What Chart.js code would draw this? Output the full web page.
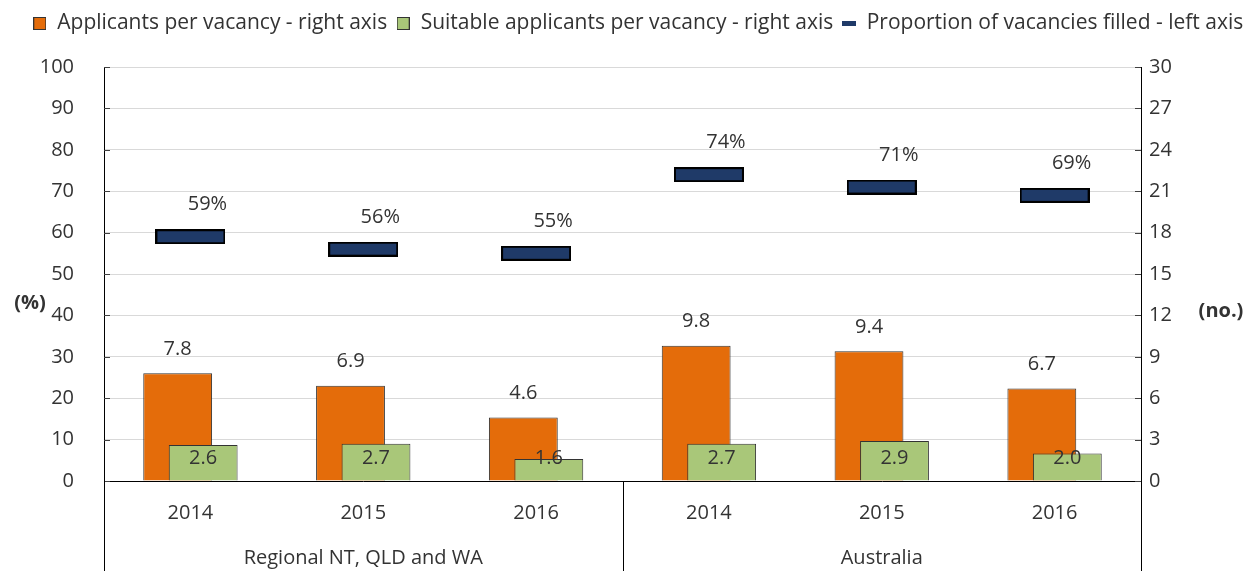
<!DOCTYPE html>
<html>
<head>
<meta charset="utf-8">
<script src="https://cdn.jsdelivr.net/npm/chart.js@4.4.1/dist/chart.umd.min.js"></script>
<style>
html, body { margin: 0; padding: 0; background: #fff; }
</style>
</head>
<body>
<canvas id="myChart" width="1248" height="571"></canvas>
<script>
// chart data
var years = ["2014", "2015", "2016", "2014", "2015", "2016"];
var groups = ["Regional NT, QLD and WA", "Australia"];
var applicants = [7.8, 6.9, 4.6, 9.8, 9.4, 6.7];
var suitable = [2.6, 2.7, 1.6, 2.7, 2.9, 2.0];
var filled = [59, 56, 55, 74, 71, 69];
var seriesNames = [
	"Applicants per vacancy - right axis",
	"Suitable applicants per vacancy - right axis",
	"Proportion of vacancies filled - left axis"
];

var FONT = "'Open Sans', Lato, sans-serif";
var TEXT = "#333333";
var ORANGE = "#E46C0A";
var GREEN = "#A9C779";
var NAVY = "#1F3A68";
var EDGE = "#333333";

function makeIcon(w, h, fill, stroke, lw) {
	var c = document.createElement("canvas");
	c.width = w; c.height = h;
	var g = c.getContext("2d");
	g.fillStyle = fill;
	g.fillRect(0, 0, w, h);
	if (stroke) {
		g.strokeStyle = stroke;
		g.lineWidth = lw;
		g.strokeRect(lw / 2, lw / 2, w - lw, h - lw);
	}
	return c;
}

var marker = makeIcon(70, 15, NAVY, "#000000", 2);
var legendIcons = [
	makeIcon(13, 13, ORANGE, EDGE, 1),
	makeIcon(13, 13, GREEN, EDGE, 1),
	makeIcon(14, 5, NAVY, null, 0)
];

// make the legend box taller so the plot starts lower, and nudge it
var legendSpace = {
	id: "legendSpace",
	beforeInit: function(chart) {
		var fit = chart.legend.fit;
		chart.legend.fit = function() {
			fit.bind(chart.legend)();
			this.height += 27;
		};
	},
	afterLayout: function(chart) {
		chart.legend.left += 14;
		chart.legend.right += 14;
		chart.legend.top += 4;
		chart.legend.bottom += 4;
	}
};

// green bar has to sit on top of the orange one
var drawOrder = {
	id: "drawOrder",
	beforeDatasetDraw: function(chart, args) {
		if (args.index === 0) return false;
		if (args.index === 1) chart.getDatasetMeta(0).controller.draw();
	}
};

var valueLabels = {
	id: "valueLabels",
	afterDatasetsDraw: function(chart) {
		var ctx = chart.ctx;
		ctx.save();
		ctx.font = "20px " + FONT;
		ctx.fillStyle = TEXT;
		ctx.textAlign = "center";
		ctx.textBaseline = "middle";
		chart.getDatasetMeta(0).data.forEach(function(el, i) {
			ctx.fillText(applicants[i].toFixed(1), el.x, el.y - 24);
		});
		chart.getDatasetMeta(1).data.forEach(function(el, i) {
			ctx.fillText(suitable[i].toFixed(1), el.x, el.base - 22);
		});
		chart.getDatasetMeta(2).data.forEach(function(el, i) {
			ctx.fillText(filled[i] + "%", el.x + 17, el.y - 32);
		});
		ctx.restore();
	}
};

var extras = {
	id: "extras",
	afterDraw: function(chart) {
		var ctx = chart.ctx;
		var a = chart.chartArea;
		var xs = chart.scales.x;
		ctx.save();
		// inner tick marks
		ctx.strokeStyle = "#404040";
		ctx.lineWidth = 1;
		chart.scales.y.ticks.forEach(function(t) {
			var y = Math.round(chart.scales.y.getPixelForValue(t.value)) + 0.5;
			ctx.beginPath(); ctx.moveTo(a.left, y); ctx.lineTo(a.left + 6, y); ctx.stroke();
		});
		chart.scales.y1.ticks.forEach(function(t) {
			var y = Math.round(chart.scales.y1.getPixelForValue(t.value)) + 0.5;
			ctx.beginPath(); ctx.moveTo(a.right - 6, y); ctx.lineTo(a.right, y); ctx.stroke();
		});
		// group separators below the axis
		ctx.strokeStyle = "#000000";
		var mid = (xs.getPixelForValue(2) + xs.getPixelForValue(3)) / 2;
		[a.left, mid, a.right].forEach(function(x) {
			var px = Math.round(x) + 0.5;
			ctx.beginPath(); ctx.moveTo(px, a.bottom); ctx.lineTo(px, chart.height); ctx.stroke();
		});
		// axis titles
		ctx.font = "bold 20px " + FONT;
		ctx.fillStyle = TEXT;
		ctx.textAlign = "center";
		ctx.textBaseline = "middle";
		ctx.fillText("(%)", a.left - 74, a.top + (a.bottom - a.top) * 0.57);
		ctx.fillText("(no.)", a.right + 80, a.top + (a.bottom - a.top) * 0.59);
		ctx.restore();
	}
};

var ctx = document.getElementById("myChart");

var data = {
	labels: years,
	datasets: [
		{
			type: "bar",
			label: seriesNames[0],
			data: applicants,
			yAxisID: "y1",
			backgroundColor: ORANGE,
			borderColor: EDGE,
			borderWidth: 1,
			categoryPercentage: 0.295,
			barPercentage: 2.7,
			order: 1
		},
		{
			type: "bar",
			label: seriesNames[1],
			data: suitable,
			yAxisID: "y1",
			backgroundColor: GREEN,
			borderColor: EDGE,
			borderWidth: 1,
			categoryPercentage: 0.295,
			barPercentage: 2.7,
			order: 1
		},
		{
			type: "line",
			label: seriesNames[2],
			data: filled,
			yAxisID: "y",
			showLine: false,
			pointStyle: marker,
			pointRadius: 8,
			order: 0
		}
	]
};

var myChart = new Chart(ctx, {
	data: data,
	plugins: [legendSpace, drawOrder, valueLabels, extras],
	options: {
		responsive: false,
		animation: false,
		events: [],
		plugins: {
			tooltip: { enabled: false },
			legend: {
				position: "top",
				labels: {
					usePointStyle: true,
					boxWidth: 14,
					boxHeight: 14,
					padding: 9,
					color: TEXT,
					font: { family: FONT, size: 21 },
					generateLabels: function() {
						return seriesNames.map(function(name, i) {
							return { text: name, pointStyle: legendIcons[i], fillStyle: "#fff", strokeStyle: "#fff", lineWidth: 0, datasetIndex: i, fontColor: TEXT };
						});
					}
				}
			}
		},
		scales: {
			x: {
				type: "category",
				position: "bottom",
				weight: 0,
				grid: { display: false, drawTicks: false },
				border: { display: true, color: "#000000", width: 1 },
				ticks: { color: TEXT, font: { family: FONT, size: 20 }, padding: 20 },
				afterFit: function(s) { s.height = 44; }
			},
			x2: {
				type: "category",
				position: "bottom",
				weight: 1,
				offset: true,
				labels: groups,
				grid: { display: false, drawTicks: false },
				border: { display: false },
				ticks: { color: TEXT, font: { family: FONT, size: 20 }, padding: 21 },
				afterFit: function(s) { s.height = 46; }
			},
			y: {
				position: "left",
				min: 0,
				max: 100,
				ticks: { stepSize: 10, color: TEXT, font: { family: FONT, size: 20 }, padding: 30 },
				grid: { color: "#d9d9d9", drawTicks: false },
				border: { display: true, color: "#000000", width: 1 },
				afterFit: function(s) { s.width = 104; }
			},
			y1: {
				position: "right",
				min: 0,
				max: 30,
				ticks: { stepSize: 3, color: TEXT, font: { family: FONT, size: 20 }, padding: 8 },
				grid: { drawOnChartArea: false, drawTicks: false },
				border: { display: true, color: "#000000", width: 1 },
				afterFit: function(s) { s.width = 107; }
			}
		}
	}
});
</script>
</body>
</html>
